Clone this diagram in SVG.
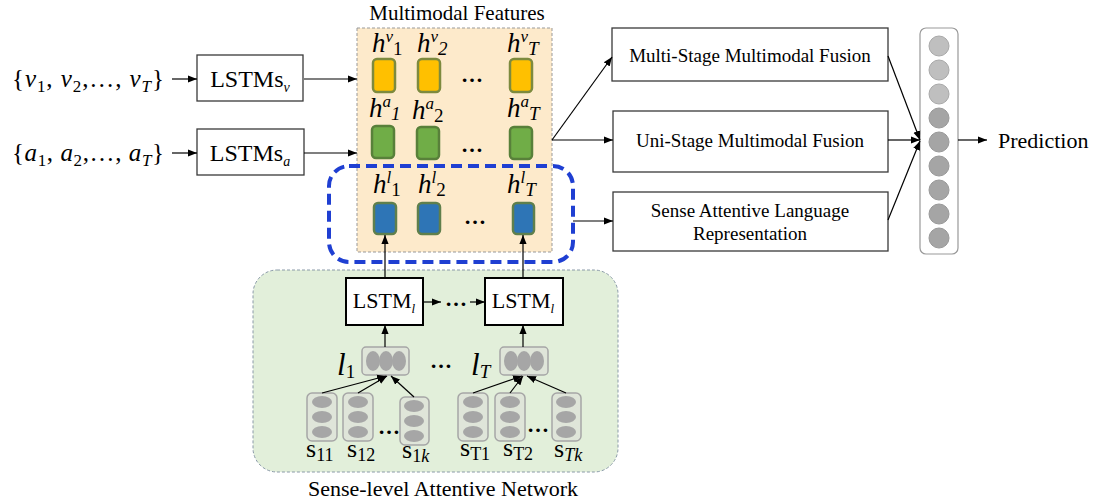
<svg xmlns="http://www.w3.org/2000/svg" width="1096" height="502" viewBox="0 0 1096 502">
<defs>
<style>
.t{font-family:"Liberation Serif","Times New Roman",serif;fill:#000}
.m{font-family:"Liberation Serif","Times New Roman",serif;fill:#000;font-style:italic}
.d{font-family:"Liberation Serif","Times New Roman",serif;fill:#000;font-weight:bold;font-size:22px}
.box{fill:#fff;stroke:#3a3a3a;stroke-width:1.3}
.bbox{fill:#fff;stroke:#000;stroke-width:2}
.ln{stroke:#000;stroke-width:1.2;fill:none}
.hy{fill:#ffc000;stroke:#7d8a3e;stroke-width:2.5}
.hg{fill:#70ad47;stroke:#58803a;stroke-width:2.5}
.hb{fill:#2e75b6;stroke:#5f7f4c;stroke-width:2.5}
.sv{fill:#dfe5d9;stroke:#a6a6a6;stroke-width:1.5}
.el{fill:#a6a6a6}
.cl{fill:#bfbfbf;stroke:#a9a9a9;stroke-width:1}
.cd{fill:#a5a5a5;stroke:#999;stroke-width:1}
</style>
<marker id="ah" viewBox="0 0 10 10" refX="10" refY="5" markerWidth="9" markerHeight="9" markerUnits="userSpaceOnUse" orient="auto"><path d="M0,1 L10,5 L0,9 z" fill="#000"/></marker>
</defs>
<rect width="1096" height="502" fill="#fff"/>

<!-- Sense-level attentive network panel -->
<g id="sense-panel">
<rect x="253" y="270" width="365" height="202" rx="24" fill="#e2efda" stroke="#8a9aa8" stroke-width="1" stroke-dasharray="3 2"/>
<text class="t" x="443" y="496" font-size="22" text-anchor="middle">Sense-level Attentive Network</text>
</g>

<!-- Multimodal features panel -->
<g id="multimodal-panel">
<rect x="357" y="28" width="195" height="224" fill="#fdeacb" stroke="#999" stroke-width="1" stroke-dasharray="3 2"/>
<text class="t" x="457" y="20" font-size="21" text-anchor="middle">Multimodal Features</text>
</g>

<!-- inputs -->
<g id="input-v">
<text class="m" x="12" y="87" font-size="25" textLength="152"><tspan font-style="normal">{</tspan>v<tspan font-size="17" font-style="normal" dy="5">1</tspan><tspan font-style="normal" dy="-5">, </tspan>v<tspan font-size="17" font-style="normal" dy="5">2</tspan><tspan font-style="normal" dy="-5">,…, </tspan>v<tspan font-size="17" dy="5">T</tspan><tspan font-style="normal" dy="-5">}</tspan></text>
</g>
<g id="input-a">
<text class="m" x="12" y="161" font-size="25" textLength="152"><tspan font-style="normal">{</tspan>a<tspan font-size="17" font-style="normal" dy="5">1</tspan><tspan font-style="normal" dy="-5">, </tspan>a<tspan font-size="17" font-style="normal" dy="5">2</tspan><tspan font-style="normal" dy="-5">,…, </tspan>a<tspan font-size="17" dy="5">T</tspan><tspan font-style="normal" dy="-5">}</tspan></text>
</g>

<g id="lstms-v">
<rect class="box" x="197" y="55" width="106" height="46"/>
<text class="t" x="250" y="87" font-size="24" text-anchor="middle">LSTMs<tspan font-size="14" font-style="italic" dy="5">v</tspan></text>
</g>
<g id="lstms-a">
<rect class="box" x="197" y="129" width="107" height="46"/>
<text class="t" x="250" y="161" font-size="24" text-anchor="middle">LSTMs<tspan font-size="14" font-style="italic" dy="5">a</tspan></text>
</g>

<!-- feature boxes -->
<g id="hv">
<rect class="hy" x="373" y="59" width="22" height="33" rx="4"/>
<rect class="hy" x="418" y="59" width="22" height="33" rx="4"/>
<rect class="hy" x="510" y="59" width="22" height="33" rx="4"/>
<text class="m" x="372" y="52" font-size="27">h<tspan font-size="17" dy="-10">v</tspan><tspan font-size="19" font-style="normal" dy="13">1</tspan></text>
<text class="m" x="417" y="52" font-size="27">h<tspan font-size="17" dy="-10">v</tspan><tspan font-size="19" dy="13">2</tspan></text>
<text class="m" x="507" y="52" font-size="27">h<tspan font-size="17" dy="-10">v</tspan><tspan font-size="19" dy="13">T</tspan></text>
<text class="d" x="472" y="82" text-anchor="middle">…</text>
</g>
<g id="ha">
<rect class="hg" x="372" y="126" width="22" height="32" rx="4"/>
<rect class="hg" x="417" y="127" width="22" height="32" rx="4"/>
<rect class="hg" x="510" y="127" width="22" height="32" rx="4"/>
<text class="m" x="369" y="117" font-size="27">h<tspan font-size="17" dy="-10">a</tspan><tspan font-size="19" dy="13">1</tspan></text>
<text class="m" x="412" y="119" font-size="27">h<tspan font-size="17" dy="-10">a</tspan><tspan font-size="19" font-style="normal" dy="13">2</tspan></text>
<text class="m" x="507" y="117" font-size="27">h<tspan font-size="17" dy="-10">a</tspan><tspan font-size="19" dy="13">T</tspan></text>
<text class="d" x="472" y="152" text-anchor="middle">…</text>
</g>
<g id="hl">
<rect class="hb" x="374" y="203" width="22" height="31" rx="4"/>
<rect class="hb" x="418" y="203" width="22" height="31" rx="4"/>
<rect class="hb" x="513" y="203" width="21" height="31" rx="4"/>
<text class="m" x="373" y="193" font-size="27">h<tspan font-size="17" dy="-10">l</tspan><tspan font-size="19" font-style="normal" dy="13">1</tspan></text>
<text class="m" x="418" y="193" font-size="27">h<tspan font-size="17" dy="-10">l</tspan><tspan font-size="19" font-style="normal" dy="13">2</tspan></text>
<text class="m" x="507" y="193" font-size="27">h<tspan font-size="17" dy="-10">l</tspan><tspan font-size="19" dy="13">T</tspan></text>
<text class="d" x="475" y="224" text-anchor="middle">…</text>
</g>

<!-- blue dashed highlight -->
<g id="highlight">
<rect x="329" y="166" width="244" height="96" rx="20" fill="none" stroke="#1f3fd2" stroke-width="4" stroke-dasharray="11 6"/>
</g>

<!-- fusion boxes -->
<g id="multi-stage">
<rect class="box" x="612" y="28" width="276" height="53"/>
<text class="t" x="750" y="62" font-size="19" text-anchor="middle">Multi-Stage Multimodal Fusion</text>
</g>
<g id="uni-stage">
<rect class="box" x="613" y="111" width="275" height="61"/>
<text class="t" x="750" y="147" font-size="19" text-anchor="middle">Uni-Stage Multimodal Fusion</text>
</g>
<g id="sense-attentive">
<rect class="box" x="613" y="192" width="275" height="59"/>
<text class="t" x="750" y="217" font-size="19" text-anchor="middle">Sense Attentive Language</text>
<text class="t" x="750" y="240" font-size="19" text-anchor="middle">Representation</text>
</g>

<!-- output vector -->
<g id="output-vector">
<rect x="920" y="28" width="38" height="226" rx="6" fill="#fff" stroke="#999" stroke-width="1.2"/>
<circle class="cl" cx="939" cy="46" r="10"/>
<circle class="cl" cx="939" cy="70" r="10"/>
<circle class="cl" cx="939" cy="94" r="10"/>
<circle class="cd" cx="939" cy="118" r="10"/>
<circle class="cd" cx="939" cy="142" r="10"/>
<circle class="cd" cx="939" cy="166" r="10"/>
<circle class="cd" cx="939" cy="190" r="10"/>
<circle class="cd" cx="939" cy="214" r="10"/>
<circle class="cd" cx="939" cy="238" r="10"/>
</g>
<g id="prediction">
<text class="t" x="998" y="148" font-size="22">Prediction</text>
</g>

<!-- LSTM_l -->
<g id="lstm-l-1">
<rect class="bbox" x="346" y="278" width="77" height="47"/>
<text class="t" x="384" y="308" font-size="22" text-anchor="middle">LSTM<tspan font-size="13" font-style="italic" dy="5">l</tspan></text>
</g>
<g id="lstm-l-T">
<rect class="bbox" x="485" y="278" width="78" height="47"/>
<text class="t" x="523" y="308" font-size="22" text-anchor="middle">LSTM<tspan font-size="13" font-style="italic" dy="5">l</tspan></text>
</g>
<text class="d" x="456" y="306" text-anchor="middle">…</text>

<!-- word vectors -->
<g id="l1">
<rect class="sv" x="362" y="347" width="47" height="28" rx="4"/>
<ellipse class="el" cx="373" cy="361" rx="7" ry="10"/>
<ellipse class="el" cx="386" cy="361" rx="7" ry="10"/>
<ellipse class="el" cx="399" cy="361" rx="7" ry="10"/>
<text class="m" x="337" y="375" font-size="31">l<tspan font-size="19" font-style="normal" dy="3">1</tspan></text>
</g>
<g id="lT">
<rect class="sv" x="500" y="347" width="48" height="28" rx="4"/>
<ellipse class="el" cx="511" cy="361" rx="7" ry="10"/>
<ellipse class="el" cx="524" cy="361" rx="7" ry="10"/>
<ellipse class="el" cx="537" cy="361" rx="7" ry="10"/>
<text class="m" x="471" y="375" font-size="31">l<tspan font-size="19" dy="3">T</tspan></text>
</g>
<text class="d" x="441" y="368" text-anchor="middle">…</text>

<!-- sense vectors -->
<g id="s11">
<rect class="sv" x="307" y="393" width="30" height="48" rx="5"/>
<ellipse class="el" cx="322" cy="402" rx="10" ry="6"/>
<ellipse class="el" cx="322" cy="417" rx="10" ry="6"/>
<ellipse class="el" cx="322" cy="432" rx="10" ry="6"/>
<text class="t" x="306" y="457" font-size="26">s<tspan font-size="18" dy="4">11</tspan></text>
</g>
<g id="s12">
<rect class="sv" x="343" y="393" width="30" height="48" rx="5"/>
<ellipse class="el" cx="358" cy="402" rx="10" ry="6"/>
<ellipse class="el" cx="358" cy="417" rx="10" ry="6"/>
<ellipse class="el" cx="358" cy="432" rx="10" ry="6"/>
<text class="t" x="347" y="457" font-size="26">s<tspan font-size="18" dy="4">12</tspan></text>
</g>
<g id="s1k">
<rect class="sv" x="400" y="397" width="29" height="48" rx="5"/>
<ellipse class="el" cx="414" cy="406" rx="10" ry="6"/>
<ellipse class="el" cx="414" cy="421" rx="10" ry="6"/>
<ellipse class="el" cx="414" cy="436" rx="10" ry="6"/>
<text class="t" x="402" y="458" font-size="26">s<tspan font-size="18" dy="4">1</tspan><tspan font-size="18" font-style="italic">k</tspan></text>
</g>
<text class="d" x="389" y="434" text-anchor="middle">…</text>
<g id="sT1">
<rect class="sv" x="458" y="393" width="30" height="48" rx="5"/>
<ellipse class="el" cx="473" cy="402" rx="10" ry="6"/>
<ellipse class="el" cx="473" cy="417" rx="10" ry="6"/>
<ellipse class="el" cx="473" cy="432" rx="10" ry="6"/>
<text class="t" x="460" y="456" font-size="26">s<tspan font-size="18" dy="4">T1</tspan></text>
</g>
<g id="sT2">
<rect class="sv" x="495" y="393" width="30" height="48" rx="5"/>
<ellipse class="el" cx="510" cy="402" rx="10" ry="6"/>
<ellipse class="el" cx="510" cy="417" rx="10" ry="6"/>
<ellipse class="el" cx="510" cy="432" rx="10" ry="6"/>
<text class="t" x="503" y="456" font-size="26">s<tspan font-size="18" dy="4">T2</tspan></text>
</g>
<g id="sTk">
<rect class="sv" x="552" y="393" width="29" height="48" rx="5"/>
<ellipse class="el" cx="566" cy="402" rx="10" ry="6"/>
<ellipse class="el" cx="566" cy="417" rx="10" ry="6"/>
<ellipse class="el" cx="566" cy="432" rx="10" ry="6"/>
<text class="t" x="554" y="457" font-size="26">s<tspan font-size="18" font-style="italic" dy="4">Tk</tspan></text>
</g>
<text class="d" x="538" y="432" text-anchor="middle">…</text>

<!-- connectors -->
<g id="connectors" class="ln" marker-end="url(#ah)">
<line x1="172" y1="79" x2="197" y2="79"/>
<line x1="172" y1="153" x2="197" y2="153"/>
<line x1="304" y1="79" x2="357" y2="79"/>
<line x1="304" y1="153" x2="357" y2="153"/>
<path d="M552,140 L612,57"/>
<path d="M552,140 L613,140"/>
<line x1="573" y1="221" x2="613" y2="221"/>
<line x1="888" y1="56" x2="920" y2="140"/>
<line x1="888" y1="140" x2="920" y2="140"/>
<line x1="888" y1="220" x2="920" y2="141"/>
<line x1="958" y1="140" x2="987" y2="140"/>
<line x1="385" y1="278" x2="385" y2="235"/>
<line x1="523" y1="278" x2="523" y2="235"/>
<line x1="423" y1="302" x2="441" y2="302"/>
<line x1="470" y1="302" x2="485" y2="302"/>
<line x1="385" y1="347" x2="385" y2="325"/>
<line x1="523" y1="347" x2="523" y2="325"/>
<line x1="322" y1="393" x2="386" y2="376"/>
<line x1="358" y1="393" x2="387" y2="376"/>
<line x1="414" y1="397" x2="391" y2="376"/>
<line x1="473" y1="393" x2="522" y2="376"/>
<line x1="510" y1="393" x2="523" y2="376"/>
<line x1="566" y1="393" x2="527" y2="376"/>
</g>
</svg>
